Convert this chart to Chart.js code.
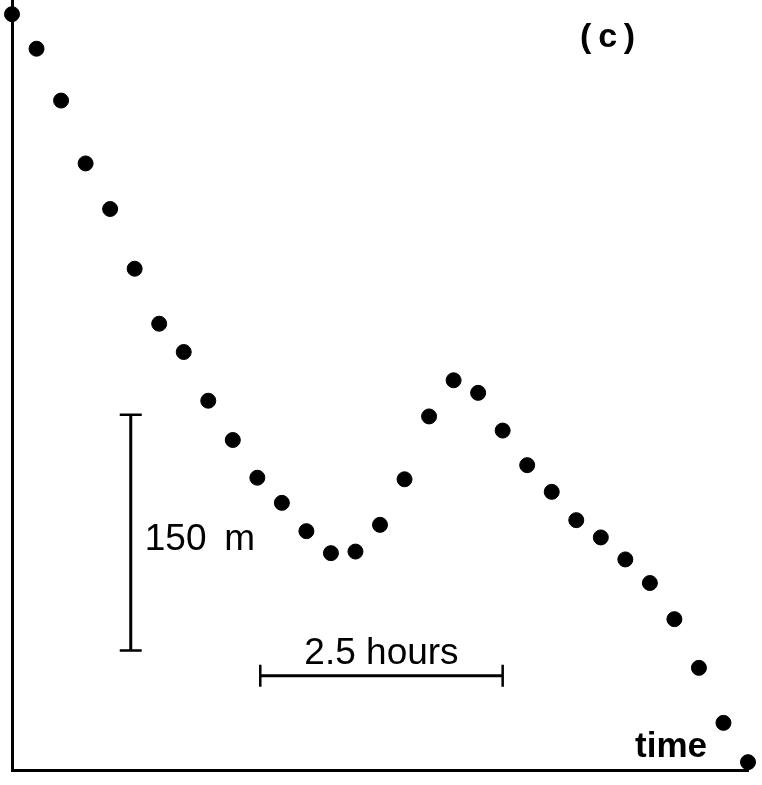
<!DOCTYPE html>
<html>
<head>
<meta charset="utf-8">
<script src="https://cdn.jsdelivr.net/npm/chart.js@4"></script>
<style>
  html, body { margin: 0; padding: 0; background: #fff; }
  canvas { display: block; }
</style>
</head>
<body>
<canvas id="panelC" width="762" height="785"></canvas>
<script>
// time of each sample, hours (15 min spacing)
let timeHours = [];
for (let i = 0; i < 31; i++) timeHours.push(i * 0.25);

// height above the baseline, metres
let heightM = [481, 459, 426, 386, 357, 319, 284, 266, 235, 210, 186,
               170, 152, 138, 139, 156, 185, 225, 248, 240, 216, 194,
               177, 159, 148, 134, 119, 96, 65, 30, 5];

// scale bars drawn in data units
let vBar = { x: 1.21, from: 76, to: 226, label: '150 m' };
let hBar = { y: 60, from: 2.53, to: 5.0, label: '2.5 hours' };

const points = timeHours.map((t, i) => ({ x: t, y: heightM[i] }));

// scale bars, "(c)" and "time" labels
const annotations = {
    id: 'annotations',
    afterDraw(chart) {
        const ctx = chart.ctx;
        const xs = chart.scales.x, ys = chart.scales.y;
        ctx.save();
        ctx.strokeStyle = '#000';
        ctx.fillStyle = '#000';
        ctx.lineCap = 'butt';

        // vertical 150 m bar
        let bx = xs.getPixelForValue(vBar.x);
        let y0 = ys.getPixelForValue(vBar.from), y1 = ys.getPixelForValue(vBar.to);
        ctx.lineWidth = 3;
        ctx.beginPath();
        ctx.moveTo(bx, y0); ctx.lineTo(bx, y1);
        ctx.stroke();
        ctx.lineWidth = 2.5;
        ctx.beginPath();
        ctx.moveTo(bx - 11, y0); ctx.lineTo(bx + 11, y0);
        ctx.moveTo(bx - 11, y1); ctx.lineTo(bx + 11, y1);
        ctx.stroke();

        // horizontal 2.5 hours bar
        let hy = ys.getPixelForValue(hBar.y);
        let x0 = xs.getPixelForValue(hBar.from), x1 = xs.getPixelForValue(hBar.to);
        ctx.lineWidth = 3;
        ctx.beginPath();
        ctx.moveTo(x0, hy); ctx.lineTo(x1, hy);
        ctx.stroke();
        ctx.lineWidth = 2.5;
        ctx.beginPath();
        ctx.moveTo(x0, hy - 11); ctx.lineTo(x0, hy + 11);
        ctx.moveTo(x1, hy - 11); ctx.lineTo(x1, hy + 11);
        ctx.stroke();

        ctx.textBaseline = 'alphabetic';
        ctx.textAlign = 'left';
        ctx.font = '37px "Liberation Sans", Arial, sans-serif';
        ctx.fillText('150\u2009 m', bx + 14, 550);
        ctx.textAlign = 'center';
        ctx.fillText(hBar.label, (x0 + x1) / 2, hy - 12);

        ctx.textAlign = 'left';
        ctx.font = 'bold 35px "Liberation Sans", Arial, sans-serif';
        ctx.fillText('time', 635, 757);
        ctx.font = 'bold 34px "Liberation Sans", Arial, sans-serif';
        ctx.fillText('(\u2009c\u2009)', 580, 47);
        ctx.restore();
    }
};

new Chart(document.getElementById('panelC').getContext('2d'), {
    type: 'scatter',
    data: {
        datasets: [{
            data: points,
            backgroundColor: '#000',
            borderColor: '#000',
            pointRadius: 7.5,
            pointHoverRadius: 7.5,
            clip: false
        }]
    },
    options: {
        responsive: false,
        animation: false,
        devicePixelRatio: 1,
        layout: { autoPadding: false, padding: { left: 12, right: 14, top: 0, bottom: 15 } },
        plugins: {
            legend: { display: false },
            tooltip: { enabled: false }
        },
        scales: {
            x: {
                type: 'linear',
                min: 0,
                max: 7.5,
                ticks: { display: false },
                grid: { display: false, drawTicks: false },
                border: { display: true, color: '#000', width: 3 }
            },
            y: {
                type: 'linear',
                min: 0,
                max: 490,
                ticks: { display: false },
                grid: { display: false, drawTicks: false },
                border: { display: true, color: '#000', width: 3 }
            }
        }
    },
    plugins: [annotations]
});
</script>
</body>
</html>
